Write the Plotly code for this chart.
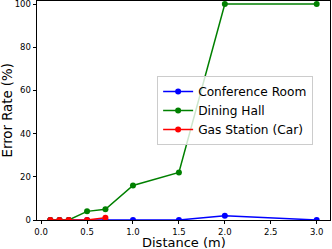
import plotly.graph_objects as go

distance = [0.1, 0.2, 0.3, 0.5, 0.7, 1.0, 1.5, 2.0, 3.0]
conference_room = [0, 0, 0, 0, 0, 0, 0, 2, 0]
dining_hall = [0, 0, 0, 4, 5, 16, 22, 100, 100]
gas_distance = [0.1, 0.2, 0.3, 0.5, 0.7]
gas_station = [0, 0, 0, 0, 1]

x_ticks = [0.0, 0.5, 1.0, 1.5, 2.0, 2.5, 3.0]
y_ticks = [0, 20, 40, 60, 80, 100]

FONT = "DejaVu Sans"

fig = go.Figure()
series = [
    ("Conference Room", distance, conference_room, "#0000ff"),
    ("Dining Hall", distance, dining_hall, "#008000"),
    ("Gas Station (Car)", gas_distance, gas_station, "#ff0000"),
]
for name, xs, ys, color in series:
    fig.add_trace(go.Scatter(
        x=xs, y=ys, name=name, mode="lines+markers",
        line=dict(color=color, width=1.5),
        marker=dict(color=color, size=6),
    ))

fig.update_layout(
    width=332, height=249,
    margin=dict(l=37, r=2, t=1, b=29, autoexpand=False),
    paper_bgcolor="white", plot_bgcolor="white",
    font=dict(family=FONT, color="black"),
    showlegend=True,
    legend=dict(
        x=0.41, y=0.657, xanchor="left", yanchor="top",
        bgcolor="rgba(255,255,255,0.8)", bordercolor="#cccccc", borderwidth=1,
        font=dict(family=FONT, size=12.2, color="black"),
        itemwidth=30, tracegroupgap=0,
    ),
    annotations=[
        dict(text="Distance (m)", xref="paper", yref="paper", x=0.5, y=0,
             xanchor="center", yanchor="middle", yshift=-22.5, showarrow=False,
             borderpad=0, font=dict(family=FONT, size=13, color="black")),
        dict(text="Error Rate (%)", xref="paper", yref="paper", x=0, y=0.5,
             xanchor="center", yanchor="middle", xshift=-30, textangle=-90,
             showarrow=False, borderpad=0,
             font=dict(family=FONT, size=13.3, color="black")),
    ],
)
fig.update_xaxes(
    range=[-0.045, 3.145], tickvals=x_ticks, tickformat=".1f",
    automargin=False, ticklabeloverflow="allow",
    showgrid=False, zeroline=False,
    showline=True, mirror=True, linecolor="black", linewidth=0.8,
    ticks="outside", ticklen=3.5, tickwidth=0.8, tickcolor="black",
    tickfont=dict(family=FONT, size=8.5),
)
fig.update_yaxes(
    range=[0, 101.4], tickvals=y_ticks,
    automargin=False, ticklabeloverflow="allow",
    showgrid=False, zeroline=False,
    showline=True, mirror=True, linecolor="black", linewidth=0.8,
    ticks="outside", ticklen=3.5, tickwidth=0.8, tickcolor="black",
    tickfont=dict(family=FONT, size=8.5),
)

fig.write_html(
    "out.html",
    config={"displayModeBar": False},
    post_script="document.body.style.margin='0';document.body.style.overflow='hidden';",
)
